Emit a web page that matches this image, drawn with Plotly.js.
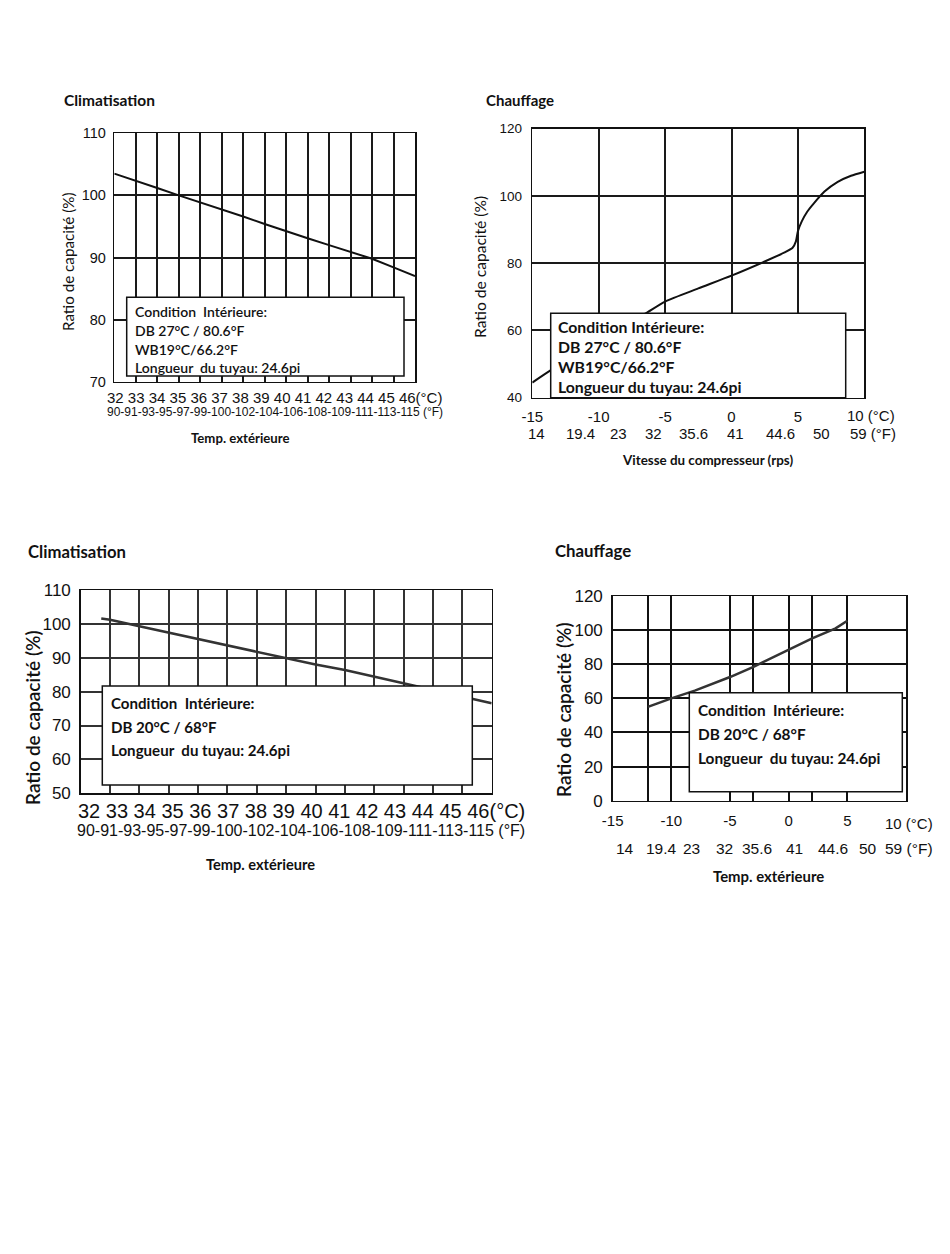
<!DOCTYPE html>
<html><head><meta charset="utf-8">
<script src="https://cdn.plot.ly/plotly-3.0.1.min.js"></script>
<style>html,body{margin:0;padding:0;background:#fff;} #chart{width:950px;height:1254px;}</style>
</head><body><div id="chart"></div>
<script>
// ---------- data ----------
const coolTemp1  = [32, 33, 34, 35, 36, 37, 38, 39, 40, 41, 42, 43, 44, 45, 46];
const coolRatio1 = [103.5, 102.4, 101.2, 100.0, 98.9, 97.7, 96.6, 95.4, 94.2, 93.1, 92.0, 90.9, 89.8, 88.4, 87.0];

const heatTemp1  = [-15, -13.6, -6.5, -5, -2.5, 0, 2.5, 4, 4.6, 4.85, 5, 5.3, 5.7, 6.2, 7, 8, 9, 10];
const heatRatio1 = [44.5, 48.2, 65.0, 68.6, 72.5, 76.3, 80.5, 83.2, 84.6, 86.5, 89.5, 92.5, 95.3, 97.8, 101.3, 104.2, 106.0, 107.2];

const coolTemp2  = [32.7, 33, 34, 35, 36, 37, 38, 39, 40, 41, 42, 43, 44, 45, 46];
const coolRatio2 = [101.6, 101.2, 99.3, 97.4, 95.5, 93.6, 91.8, 89.8, 88.0, 86.4, 84.4, 82.5, 80.6, 78.5, 76.6];

const heatTemp2  = [-12, -10, -8, -5, -3, -1, 0, 2, 4, 5];
const heatRatio2 = [55.0, 60.0, 64.5, 72.5, 78.5, 85.0, 88.3, 95.2, 101.0, 105.5];

// tick labels
const coolCLabels = ['32','33','34','35','36','37','38','39','40','41','42','43','44','45','46'];
const coolFLabels = ['90','91','93','95','97','99','100','102','104','106','108','109','111','113','115'];
const heatCTicks  = [-15, -10, -5, 0, 5, 10];
const heatCLabels = ['-15','-10','-5','0','5','10'];
const heatFLabels = ['14','19.4','23','32','35.6','41','44.6','50','59'];
const heatFAt1    = [-14.67, -11.35, -8.52, -5.88, -2.87, 0.27, 3.66, 6.8, 9.72];
const heatFAt2    = [-13.95, -10.82, -8.27, -5.43, -2.72, 0.46, 3.81, 6.79, 9.49];
const heatMinorGrid2 = [-12, -3, 2];

// texts
const titleCool = 'Climatisation';
const titleHeat = 'Chauffage';
const yTitle = 'Ratio de capacité (%)';
const xTitleTemp = 'Temp. extérieure';
const xTitleSpeed = 'Vitesse du compresseur (rps)';
const box1Lines = ['Condition  Intérieure:', 'DB 27°C / 80.6°F', 'WB19°C/66.2°F', 'Longueur  du tuyau: 24.6pi'];
const box2Lines = ['Condition Intérieure:', 'DB 27°C / 80.6°F', 'WB19°C/66.2°F', 'Longueur du tuyau: 24.6pi'];
const box3Lines = ['Condition  Intérieure:', 'DB 20°C / 68°F', 'Longueur  du tuyau: 24.6pi'];
const box4Lines = ['Condition  Intérieure:', 'DB 20°C / 68°F', 'Longueur  du tuyau: 24.6pi'];

// ---------- layout helpers ----------
const W = 950, H = 1254;
const px = x => x / W;
const py = y => 1 - y / H;
const ARIAL = 'Liberation Sans, Arial, sans-serif';
const CAL = 'Lato, Carlito, Calibri, sans-serif';

const annotations = [];
const shapes = [];
function txt(text, x, y, size, family, opts = {}) {
  annotations.push(Object.assign({
    text: text, x: px(x), y: py(y), xref: 'paper', yref: 'paper',
    xanchor: 'left', yanchor: 'middle', showarrow: false, borderpad: 0,
    font: {family: family, size: size, color: '#111', weight: opts.weight || 400}
  }, opts.extra || {}));
}
function box(x0, y0, x1, y1, lines, tx, ty, dy, size, weight) {
  shapes.push({type: 'rect', xref: 'paper', yref: 'paper', layer: 'above',
    x0: px(x0), x1: px(x1), y0: py(y1), y1: py(y0),
    fillcolor: '#fff', line: {color: '#111', width: 1.5}});
  lines.forEach((l, i) => txt(l, tx, ty + i * dy, size, CAL, {weight: weight}));
}
function fRow(labels, at, xref, y, size, rightEdge) {
  labels.forEach((l, i) => {
    const last = i === labels.length - 1;
    if (last) {
      txt(l + ' (°F)', rightEdge, y, size, ARIAL, {extra: {xanchor: 'right'}});
    } else {
      annotations.push({text: l, x: at[i], xref: xref, y: py(y), yref: 'paper', borderpad: 0,
        xanchor: 'center', yanchor: 'middle', showarrow: false, font: {family: ARIAL, size: size, color: '#111'}});
    }
  });
}

const gridStyle = (c, w) => ({showgrid: true, gridcolor: c, gridwidth: w, showline: true, mirror: true,
  linecolor: '#111', linewidth: 1.5, zeroline: false, ticks: '', fixedrange: true});

// ---------- traces ----------
const traces = [
  {x: coolTemp1, y: coolRatio1, xaxis: 'x', yaxis: 'y', mode: 'lines', line: {color: '#111', width: 2}, hoverinfo: 'none'},
  {x: heatTemp1, y: heatRatio1, xaxis: 'x2', yaxis: 'y2', mode: 'lines', line: {color: '#111', width: 2, shape: 'spline', smoothing: 0.6}, hoverinfo: 'none'},
  {x: coolTemp2, y: coolRatio2, xaxis: 'x3', yaxis: 'y3', mode: 'lines', line: {color: '#333', width: 2.5}, hoverinfo: 'none'},
  {x: heatTemp2, y: heatRatio2, xaxis: 'x4', yaxis: 'y4', mode: 'lines', line: {color: '#333', width: 2.5}, hoverinfo: 'none'}
];

// ---------- chart 1 (top-left) ----------
txt(titleCool, 63, 100, 15.5, CAL, {weight: 700});
txt(yTitle, 68, 262, 15.2, CAL, {extra: {xanchor: 'center', textangle: -90}});
txt(coolCLabels.join(' ') + '(°C)', 106, 397.5, 15, ARIAL);
txt(coolFLabels.join('-') + ' (°F)', 106, 412, 12, ARIAL);
txt(xTitleTemp, 240, 438.5, 13.2, CAL, {weight: 700, extra: {xanchor: 'center'}});
box(126.7, 297.3, 404, 376, box1Lines, 134, 311.7, 18.7, 14, 600);

// ---------- chart 2 (top-right) ----------
txt(titleHeat, 485, 100, 15, CAL, {weight: 700});
txt(yTitle, 480, 267, 15.6, CAL, {extra: {xanchor: 'center', textangle: -90}});
txt(heatCLabels[5] + ' (°C)', 896, 415, 15, ARIAL, {extra: {xanchor: 'right'}});
fRow(heatFLabels, heatFAt1, 'x2', 433, 15, 897);
txt(xTitleSpeed, 707, 460, 13.4, CAL, {weight: 700, extra: {xanchor: 'center'}});
box(550.7, 313.3, 845.7, 397.7, box2Lines, 556.5, 326.7, 20, 15.8, 700);

// ---------- chart 3 (bottom-left) ----------
txt(titleCool, 26.7, 552, 16.7, CAL, {weight: 700});
txt(yTitle, 33, 718, 19, CAL, {weight: 600, extra: {xanchor: 'center', textangle: -90}});
txt(coolCLabels.join(' ') + '(°C)', 76.7, 811, 20, ARIAL);
txt(coolFLabels.join('-') + ' (°F)', 76, 830, 16, ARIAL);
txt(xTitleTemp, 260, 865, 14.6, CAL, {weight: 700, extra: {xanchor: 'center'}});
box(102.3, 686, 472.3, 785, box3Lines, 109.5, 703.3, 23.3, 15.1, 700);

// ---------- chart 4 (bottom-right) ----------
txt(titleHeat, 554.3, 550, 16.8, CAL, {weight: 700});
txt(yTitle, 563, 710, 19, CAL, {weight: 600, extra: {xanchor: 'center', textangle: -90}});
txt(heatCLabels[5] + ' (°C)', 934, 823, 15, ARIAL, {extra: {xanchor: 'right'}});
fRow(heatFLabels, heatFAt2, 'x4', 848, 15.5, 934);
txt(xTitleTemp, 768, 876, 14.9, CAL, {weight: 700, extra: {xanchor: 'center'}});
box(689.3, 692.7, 902.3, 791.7, box4Lines, 697, 710, 23.8, 15.4, 700);

const layout = {
  width: W, height: H, margin: {l: 0, r: 0, t: 0, b: 0},
  paper_bgcolor: '#fff', plot_bgcolor: '#fff', showlegend: false,
  xaxis: Object.assign(gridStyle('#1a1a1a', 2), {domain: [px(114.3), px(415)], anchor: 'y', range: [32, 46],
    tickvals: coolTemp1, showticklabels: false}),
  yaxis: Object.assign(gridStyle('#1a1a1a', 2), {domain: [py(381.7), py(133.3)], anchor: 'x', range: [70, 110],
    dtick: 10, tickfont: {family: ARIAL, size: 14.5, color: '#111'}, ticklabelstandoff: 4}),
  xaxis2: Object.assign(gridStyle('#1a1a1a', 2), {domain: [px(532.3), px(864.3)], anchor: 'y2', range: [-15, 10],
    tickvals: heatCTicks, ticktext: heatCLabels.slice(0, 5).concat(['']),
    tickfont: {family: ARIAL, size: 15, color: '#111'}, ticklabelstandoff: 5}),
  yaxis2: Object.assign(gridStyle('#1a1a1a', 2), {domain: [py(397.7), py(128.7)], anchor: 'x2', range: [40, 120],
    dtick: 20, tickfont: {family: ARIAL, size: 13.5, color: '#111'}, ticklabelstandoff: 6}),
  xaxis3: Object.assign(gridStyle('#333', 2), {domain: [px(80.7), px(491.7)], anchor: 'y3', range: [32, 46],
    tickvals: coolTemp1, showticklabels: false}),
  yaxis3: Object.assign(gridStyle('#333', 2), {domain: [py(793.3), py(590)], anchor: 'x3', range: [50, 110],
    dtick: 10, tickfont: {family: ARIAL, size: 17, color: '#111'}, ticklabelstandoff: 5}),
  xaxis4: Object.assign(gridStyle('#111', 2), {domain: [px(612.7), px(906)], anchor: 'y4', range: [-15, 10],
    tickvals: heatCTicks, ticktext: heatCLabels.slice(0, 5).concat(['']),
    tickfont: {family: ARIAL, size: 15, color: '#111'}, ticklabelstandoff: 6,
    minor: {tickvals: heatMinorGrid2, showgrid: true, gridcolor: '#111', gridwidth: 2, ticks: ''}}),
  yaxis4: Object.assign(gridStyle('#111', 2), {domain: [py(800.7), py(596)], anchor: 'x4', range: [0, 120],
    dtick: 20, tickfont: {family: ARIAL, size: 17, color: '#111'}, ticklabelstandoff: 5}),
  annotations: annotations,
  shapes: shapes
};

Plotly.newPlot('chart', traces, layout, {staticPlot: true, displayModeBar: false});
</script></body></html>
